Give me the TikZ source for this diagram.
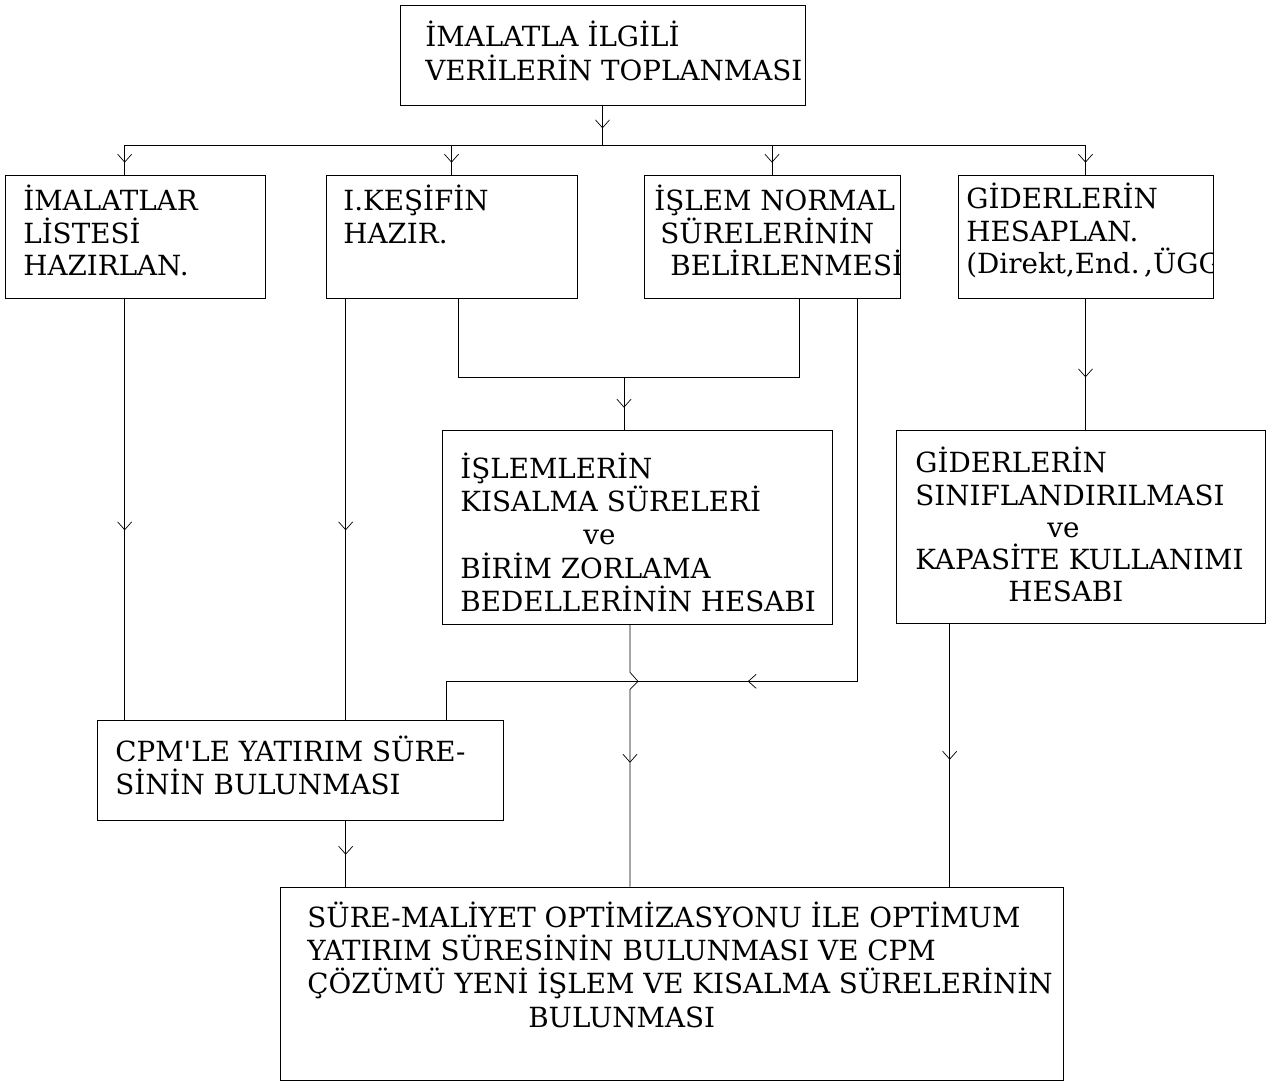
\documentclass[tikz,border=0pt]{standalone}
\usepackage{fontspec}
\setmainfont{DejaVu Serif}
\usetikzlibrary{positioning, arrows.meta, calc, decorations.markings}
\tikzset{
line width=1.6pt,
box/.style={draw, rectangle, inner sep=0pt}, % the frames, drawn empty
txt/.style={anchor=north west, inner sep=0pt, align=left,
  font=\fontsize{15.8}{18.8}\selectfont,
  execute at begin node={\rule{0pt}{16pt}}}, % text block, north is 16pt above first baseline
midarrow/.style={postaction={decorate, decoration={markings,
  mark=at position #1 with {\arrow{Straight Barb[length=4.5pt,width=8pt]}}}}}, % arrow inside a line
}

\begin{document}
\begin{tikzpicture}[x=0.02cm, y=-0.02cm]
    \useasboundingbox (0,0) rectangle (1275,1084);

    % frames
    \node[box, minimum width=8.1cm, minimum height=2cm] (top) at (602.5,55) {};
    \node[box, minimum width=5.2cm, minimum height=2.46cm] (imal) at (135,236.5) {};
    \node[box, minimum width=5.02cm, minimum height=2.46cm] (kesif) at (451.5,236.5) {};
    \node[box, minimum width=5.12cm, minimum height=2.46cm] (normal) at (772,236.5) {};
    \node[box, minimum width=5.1cm, minimum height=2.46cm] (gider) at (1085.5,236.5) {};
    \node[box, minimum width=7.8cm, minimum height=3.88cm] (kisalma) at (637,527) {};
    \node[box, minimum width=7.38cm, minimum height=3.86cm] (sinif) at (1080.5,526.5) {};
    \node[box, minimum width=8.12cm, minimum height=2cm] (cpm) at (300,770) {};
    \node[box, minimum width=15.66cm, minimum height=3.86cm] (optim) at (671.5,983.5) {};

    % texts
    \node[txt, font=\fontsize{15.8}{19.4}\selectfont] (topT) at (425,21) {İMALATLA İLGİLİ\\VERİLERİN TOPLANMASI};
    \node[txt, font=\fontsize{15.8}{18.3}\selectfont] (imalT) at (23,185) {İMALATLAR\\LİSTESİ\\HAZIRLAN.};
    \node[txt, font=\fontsize{15.8}{18.3}\selectfont] (kesifT) at (343,185) {I.KEŞİFİN\\HAZIR.};
    \begin{scope}
      \clip (644,175) rectangle (900,298);
      \node[txt, font=\fontsize{15.8}{18.3}\selectfont] (normalT) at (654,185)
        {İŞLEM NORMAL\\\hspace*{0.12cm}SÜRELERİNİN\\\hspace*{0.32cm}BELİRLENMESİ};
    \end{scope}
    \begin{scope}
      \clip (958,175) rectangle (1213,298);
      \node[txt, font=\fontsize{15.8}{18.3}\selectfont] (giderT) at (966,183)
        {GİDERLERİN\\HESAPLAN.\\(Direkt,End.\,,ÜGG};
    \end{scope}
    \node[txt] (kisalmaT) at (460,453)
      {İŞLEMLERİN\\KISALMA SÜRELERİ\\\hspace*{2.46cm}ve\\BİRİM ZORLAMA\\BEDELLERİNİN HESABI};
    \node[txt, font=\fontsize{15.8}{18.3}\selectfont] (sinifT) at (915,447)
      {GİDERLERİN\\SINIFLANDIRILMASI\\\hspace*{2.64cm}ve\\KAPASİTE KULLANIMI\\\hspace*{1.86cm}HESABI};
    \node[txt] (cpmT) at (115,736)
      {CPM\textquotesingle LE YATIRIM SÜRE-\\SİNİN BULUNMASI};
    \node[txt] (optimT) at (307,902)
      {SÜRE-MALİYET OPTİMİZASYONU İLE OPTİMUM\\YATIRIM SÜRESİNİN BULUNMASI VE CPM\\
       ÇÖZÜMÜ YENİ İŞLEM VE KISALMA SÜRELERİNİN\\\hspace*{4.42cm}BULUNMASI};

    % top box to the four boxes below
    \coordinate (bus) at ($(top.south)+(0,40)$);
    \coordinate (a) at ($(imal.south west)+(120,0)$);
    \draw[midarrow=0.46cm] (top.south) -- (bus);
    \draw (bus -| a) -- (bus -| gider.north);
    \draw[midarrow=-0.24cm] (bus -| a) -- (a |- imal.north);
    \foreach \n in {kesif, normal, gider}
      \draw[midarrow=-0.24cm] (bus -| \n.north) -- (\n.north);

    % first two columns down to CPM
    \coordinate (b) at ($(kesif.south west)+(20,0)$);
    \draw[midarrow=4.64cm] (a) -- (a |- cpm.north);
    \draw[midarrow=4.64cm] (b) -- (b |- cpm.north);

    % kesif and normal join into kisalma
    \coordinate (b2) at ($(kesif.south west)+(133,0)$);
    \coordinate (c1) at ($(normal.south west)+(156,0)$);
    \coordinate (m) at ($(kisalma.north)+(-13,-52)$);
    \draw (b2) |- (m) -| (c1);
    \draw[midarrow=-0.44cm] (m) -- (m |- kisalma.north);

    % normal round to CPM, crossing the kisalma line
    \coordinate (c2) at ($(normal.south west)+(214,0)$);
    \coordinate (k) at ($(kisalma.south)+(-7,0)$);
    \coordinate (hop) at ($(k)+(0,57)$);
    \coordinate (d) at ($(cpm.north west)+(350,0)$);
    \draw[midarrow=9.86cm] (c2) |- (hop -| d) -- (d);
    \draw[midarrow=-2.48cm] (k) -- ($(hop)+(0,-9)$) -- ($(hop)+(8,0)$) -- ($(hop)+(0,8)$) -- (k |- optim.north);

    % into the last box
    \draw[midarrow=-0.64cm] (b |- cpm.south) -- (b |- optim.north);
    \draw[midarrow=1.58cm] (gider.south) -- (gider.south |- sinif.north);
    \coordinate (s) at ($(sinif.south west)+(54,0)$);
    \draw[midarrow=-2.54cm] (s) -- (s |- optim.north);
\end{tikzpicture}
\end{document}
